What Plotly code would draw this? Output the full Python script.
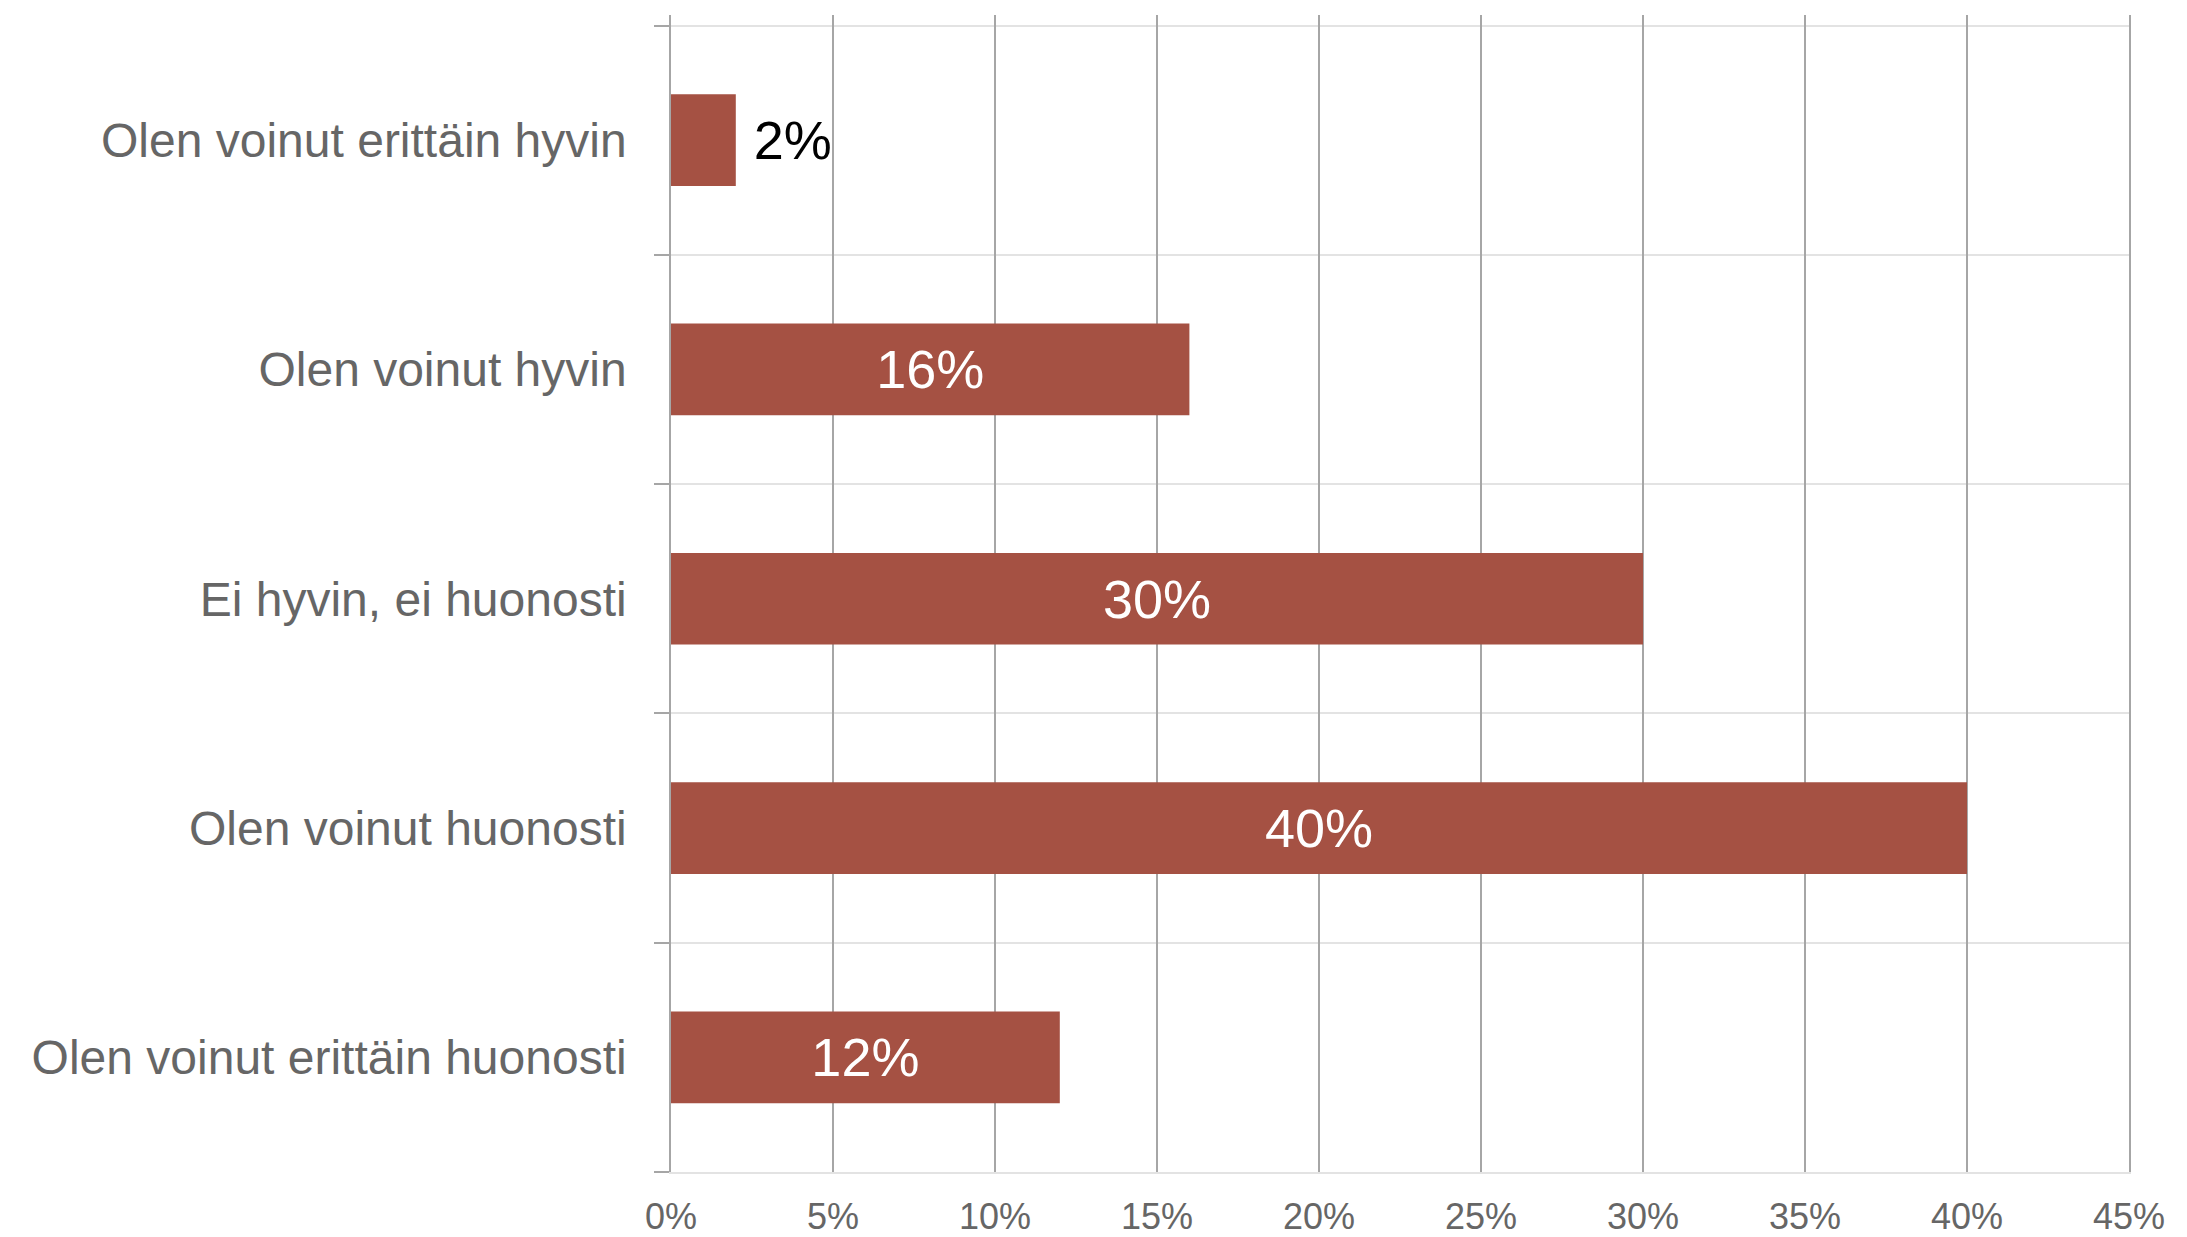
import plotly.graph_objects as go

categories = [
    "Olen voinut erittäin hyvin",
    "Olen voinut hyvin",
    "Ei hyvin, ei huonosti",
    "Olen voinut huonosti",
    "Olen voinut erittäin huonosti",
]
values = [0.02, 0.16, 0.30, 0.40, 0.12]
x_ticks = [0, 0.05, 0.10, 0.15, 0.20, 0.25, 0.30, 0.35, 0.40, 0.45]
x_tick_labels = ["0%", "5%", "10%", "15%", "20%", "25%", "30%", "35%", "40%", "45%"]

positions = list(range(len(categories)))
boundaries = [p - 0.5 for p in positions] + [positions[-1] + 0.5]

BAR = "#A55143"
GREY_TXT = "#666666"
FONT = "Liberation Sans, Arial, sans-serif"

text_positions = ["outside" if v < 0.05 else "inside" for v in values]
templates = ["\u00a0%{x:.0%}" if v < 0.05 else "%{x:.0%}" for v in values]

fig = go.Figure(
    go.Bar(
        x=values,
        y=positions,
        orientation="h",
        marker=dict(color=BAR, line=dict(width=0)),
        width=0.4,
        texttemplate=templates,
        textposition=text_positions,
        insidetextanchor="middle",
        insidetextfont=dict(color="white", size=54, family=FONT),
        outsidetextfont=dict(color="black", size=54, family=FONT),
        constraintext="none",
        cliponaxis=False,
        hoverinfo="skip",
    )
)

fig.update_layout(
    width=2187,
    height=1237,
    margin=dict(l=663, r=66, t=7, b=73),
    paper_bgcolor="white",
    plot_bgcolor="white",
    showlegend=False,
    font=dict(family=FONT, color=GREY_TXT),
    xaxis=dict(
        range=[0, 0.45],
        tickvals=x_ticks,
        ticktext=x_tick_labels,
        showgrid=True,
        gridcolor="#A6A6A6",
        gridwidth=1.5,
        zeroline=False,
        showline=True,
        linecolor="#E3E3E3",
        linewidth=2,
        ticks="",
        tickfont=dict(size=36, color=GREY_TXT, family=FONT),
        ticklabelstandoff=12,
        automargin=False,
        fixedrange=True,
    ),
    yaxis=dict(
        range=[4.5, -0.5458],
        tickvals=positions,
        ticktext=categories,
        showgrid=False,
        zeroline=False,
        showline=True,
        mirror=True,
        linecolor="#A6A6A6",
        linewidth=1.5,
        ticks="",
        ticklabelstandoff=33,
        tickfont=dict(size=48, color=GREY_TXT, family=FONT),
        minor=dict(
            tickmode="array",
            tickvals=boundaries,
            ticks="outside",
            ticklen=15,
            tickcolor="#A6A6A6",
            tickwidth=1.5,
            showgrid=True,
            gridcolor="#E3E3E3",
            gridwidth=2,
        ),
        automargin=False,
        fixedrange=True,
    ),
)

fig.write_html("out.html")
